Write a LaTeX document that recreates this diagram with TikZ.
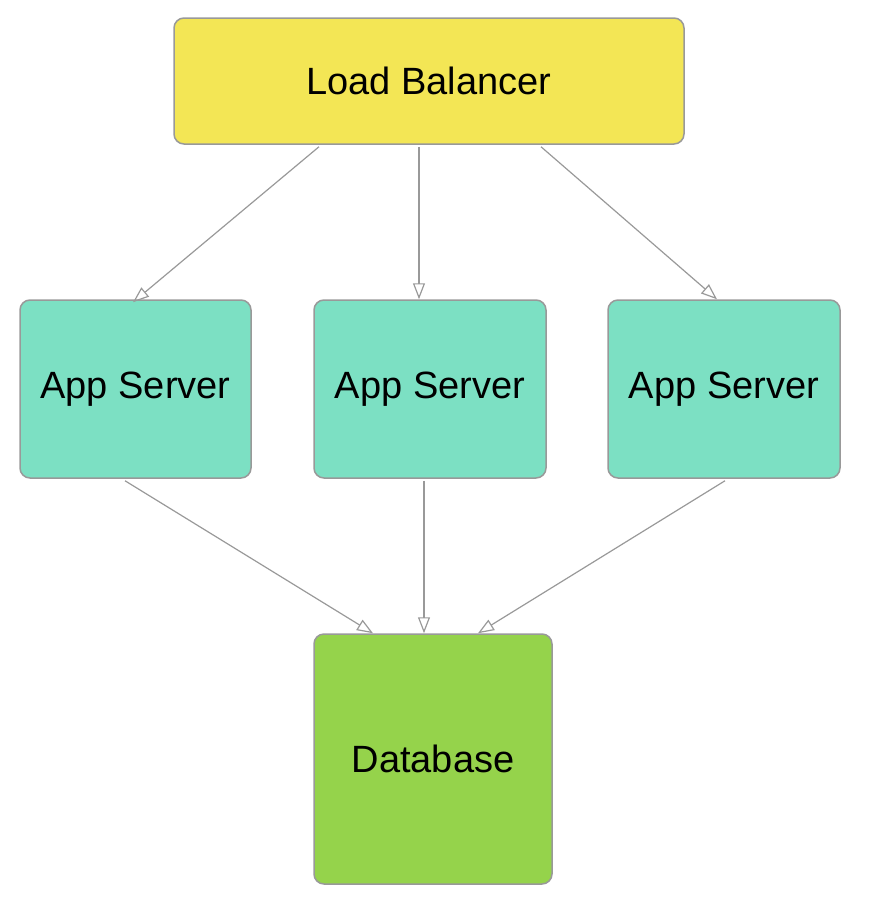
\documentclass[tikz,border=0pt]{standalone}
\usepackage{fontspec}
\setmainfont{Liberation Sans}
\usetikzlibrary{arrows.meta}

\definecolor{lbyellow}{HTML}{F3E655}
\definecolor{appgreen}{HTML}{7CE0C3}
\definecolor{dbgreen}{HTML}{95D34B}
\definecolor{edgegray}{HTML}{999999}

\tikzset{
	box/.style={draw=edgegray, line width=1.5pt, rounded corners=10pt, inner sep=0pt,
		font=\fontsize{38}{44}\selectfont},
	link/.style={draw=edgegray, line width=1.2pt, -{Triangle[open, length=16pt, width=12pt]}}
}

\begin{document}
\begin{tikzpicture}[x=1pt, y=-1pt]

\path [use as bounding box] (0,0) rectangle (885,922);

% BOXES
\node [box, fill=lbyellow, minimum width=510pt, minimum height=126pt] (lb) at (429,81) {Load Balancer};
\node [box, fill=appgreen, minimum width=231pt, minimum height=178pt] (app1) at (135.5,389) {App Server};
\node [box, fill=appgreen, minimum width=232pt, minimum height=178pt] (app2) at (430,389) {App Server};
\node [box, fill=appgreen, minimum width=232pt, minimum height=178pt] (app3) at (724,389) {App Server};
\node [box, fill=dbgreen, minimum width=238pt, minimum height=250pt] (db) at (433,759) {Database};

% LINKS
\draw [link] ([xshift=-110pt, yshift=-2pt]lb.south) -- ([xshift=-2.5pt, yshift=-3pt]app1.north);
\draw [link] ([xshift=-10pt, yshift=-2pt]lb.south) -- ([xshift=-11pt]app2.north);
\draw [link] ([xshift=112pt, yshift=-2pt]lb.south) -- ([xshift=-7pt]app3.north);
\draw [link] ([xshift=-10.5pt, yshift=-2pt]app1.south) -- ([xshift=-60pt]db.north);
\draw [link] ([xshift=-6pt, yshift=-2pt]app2.south) -- ([xshift=-9pt]db.north);
\draw [link] ([xshift=1pt, yshift=-2pt]app3.south) -- ([xshift=45pt]db.north);

\end{tikzpicture}
\end{document}
